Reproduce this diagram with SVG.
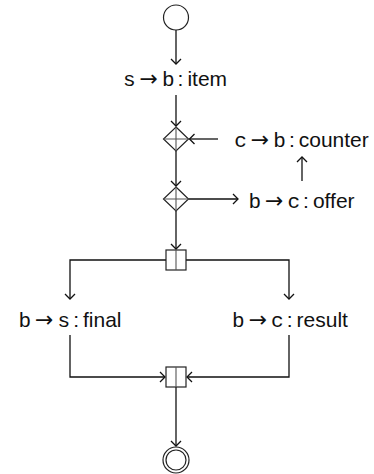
<svg xmlns="http://www.w3.org/2000/svg" width="374" height="474" viewBox="0 0 374 474">
  <style>
    .edge { fill: none; stroke: #111; stroke-width: 1.3; }
    .shape { fill: #fff; stroke: #222; stroke-width: 1.2; }
    .inner { fill: none; stroke: #555; stroke-width: 1.1; }
    .lbl { font-family: "Liberation Sans", "DejaVu Sans", sans-serif; font-size: 21px; fill: #111; }
    .who { font-family: "Liberation Mono", "DejaVu Sans Mono", monospace; font-size: 21px; }
    .arr { font-family: "DejaVu Sans", sans-serif; font-size: 22px; }
  </style>
  <defs>
    <marker id="tip" viewBox="-6 -6 8 12" markerWidth="8" markerHeight="12" refX="0" refY="0" orient="auto" markerUnits="userSpaceOnUse">
      <path d="M-5,-5 L0,0 L-5,5" fill="none" stroke="#111" stroke-width="1.3"/>
    </marker>
  </defs>

  <!-- connectors -->
  <g id="edges" class="edge" marker-end="url(#tip)">
    <path d="M176,30 V64"/>
    <path d="M176,95 V126"/>
    <path d="M176,151 V186"/>
    <path d="M176,211 V249"/>
    <path d="M218,139 H189.5"/>
    <path d="M188.5,199 H238"/>
    <path d="M302,181 V157"/>
    <path d="M166,260 H70 V299"/>
    <path d="M186,260 H289 V299"/>
    <path d="M70,335 V377 H165"/>
    <path d="M289,335 V377 H187"/>
    <path d="M176,387 V446"/>
  </g>

  <!-- start event -->
  <g id="start">
    <circle class="shape" cx="176" cy="17.5" r="12.5"/>
  </g>

  <!-- message nodes -->
  <g id="item">
    <text class="lbl" x="175" y="86" text-anchor="middle"><tspan class="who">s</tspan><tspan class="arr" dx="4">→</tspan><tspan class="who" dx="4">b</tspan><tspan dx="3">:</tspan><tspan dx="4">item</tspan></text>
  </g>

  <g id="choice1">
    <polygon class="shape" points="176,127 188.5,139 176,151 163.5,139"/>
    <path class="inner" d="M163.5,139 H188.5 M176,127 V151"/>
  </g>

  <g id="counter">
    <text class="lbl" x="301.5" y="147" text-anchor="middle"><tspan class="who">c</tspan><tspan class="arr" dx="4">→</tspan><tspan class="who" dx="4">b</tspan><tspan dx="3">:</tspan><tspan dx="4">counter</tspan></text>
  </g>

  <g id="choice2">
    <polygon class="shape" points="176,187 188.5,199 176,211 163.5,199"/>
    <path class="inner" d="M163.5,199 H188.5 M176,187 V211"/>
  </g>

  <g id="offer">
    <text class="lbl" x="301.5" y="208" text-anchor="middle"><tspan class="who">b</tspan><tspan class="arr" dx="4">→</tspan><tspan class="who" dx="4">c</tspan><tspan dx="3">:</tspan><tspan dx="4">offer</tspan></text>
  </g>

  <g id="fork">
    <rect class="shape" x="166" y="250" width="20" height="20"/>
    <path class="inner" d="M176,250 V270"/>
  </g>

  <g id="final">
    <text class="lbl" x="70" y="327" text-anchor="middle"><tspan class="who">b</tspan><tspan class="arr" dx="4">→</tspan><tspan class="who" dx="4">s</tspan><tspan dx="3">:</tspan><tspan dx="4">final</tspan></text>
  </g>

  <g id="result">
    <text class="lbl" x="290" y="327" text-anchor="middle"><tspan class="who">b</tspan><tspan class="arr" dx="4">→</tspan><tspan class="who" dx="4">c</tspan><tspan dx="3">:</tspan><tspan dx="4">result</tspan></text>
  </g>

  <g id="join">
    <rect class="shape" x="166" y="367" width="20" height="20"/>
    <path class="inner" d="M176,367 V387"/>
  </g>

  <!-- end event -->
  <g id="end">
    <circle class="shape" cx="176" cy="460" r="13"/>
    <circle class="shape" cx="176" cy="460" r="10"/>
  </g>
</svg>
